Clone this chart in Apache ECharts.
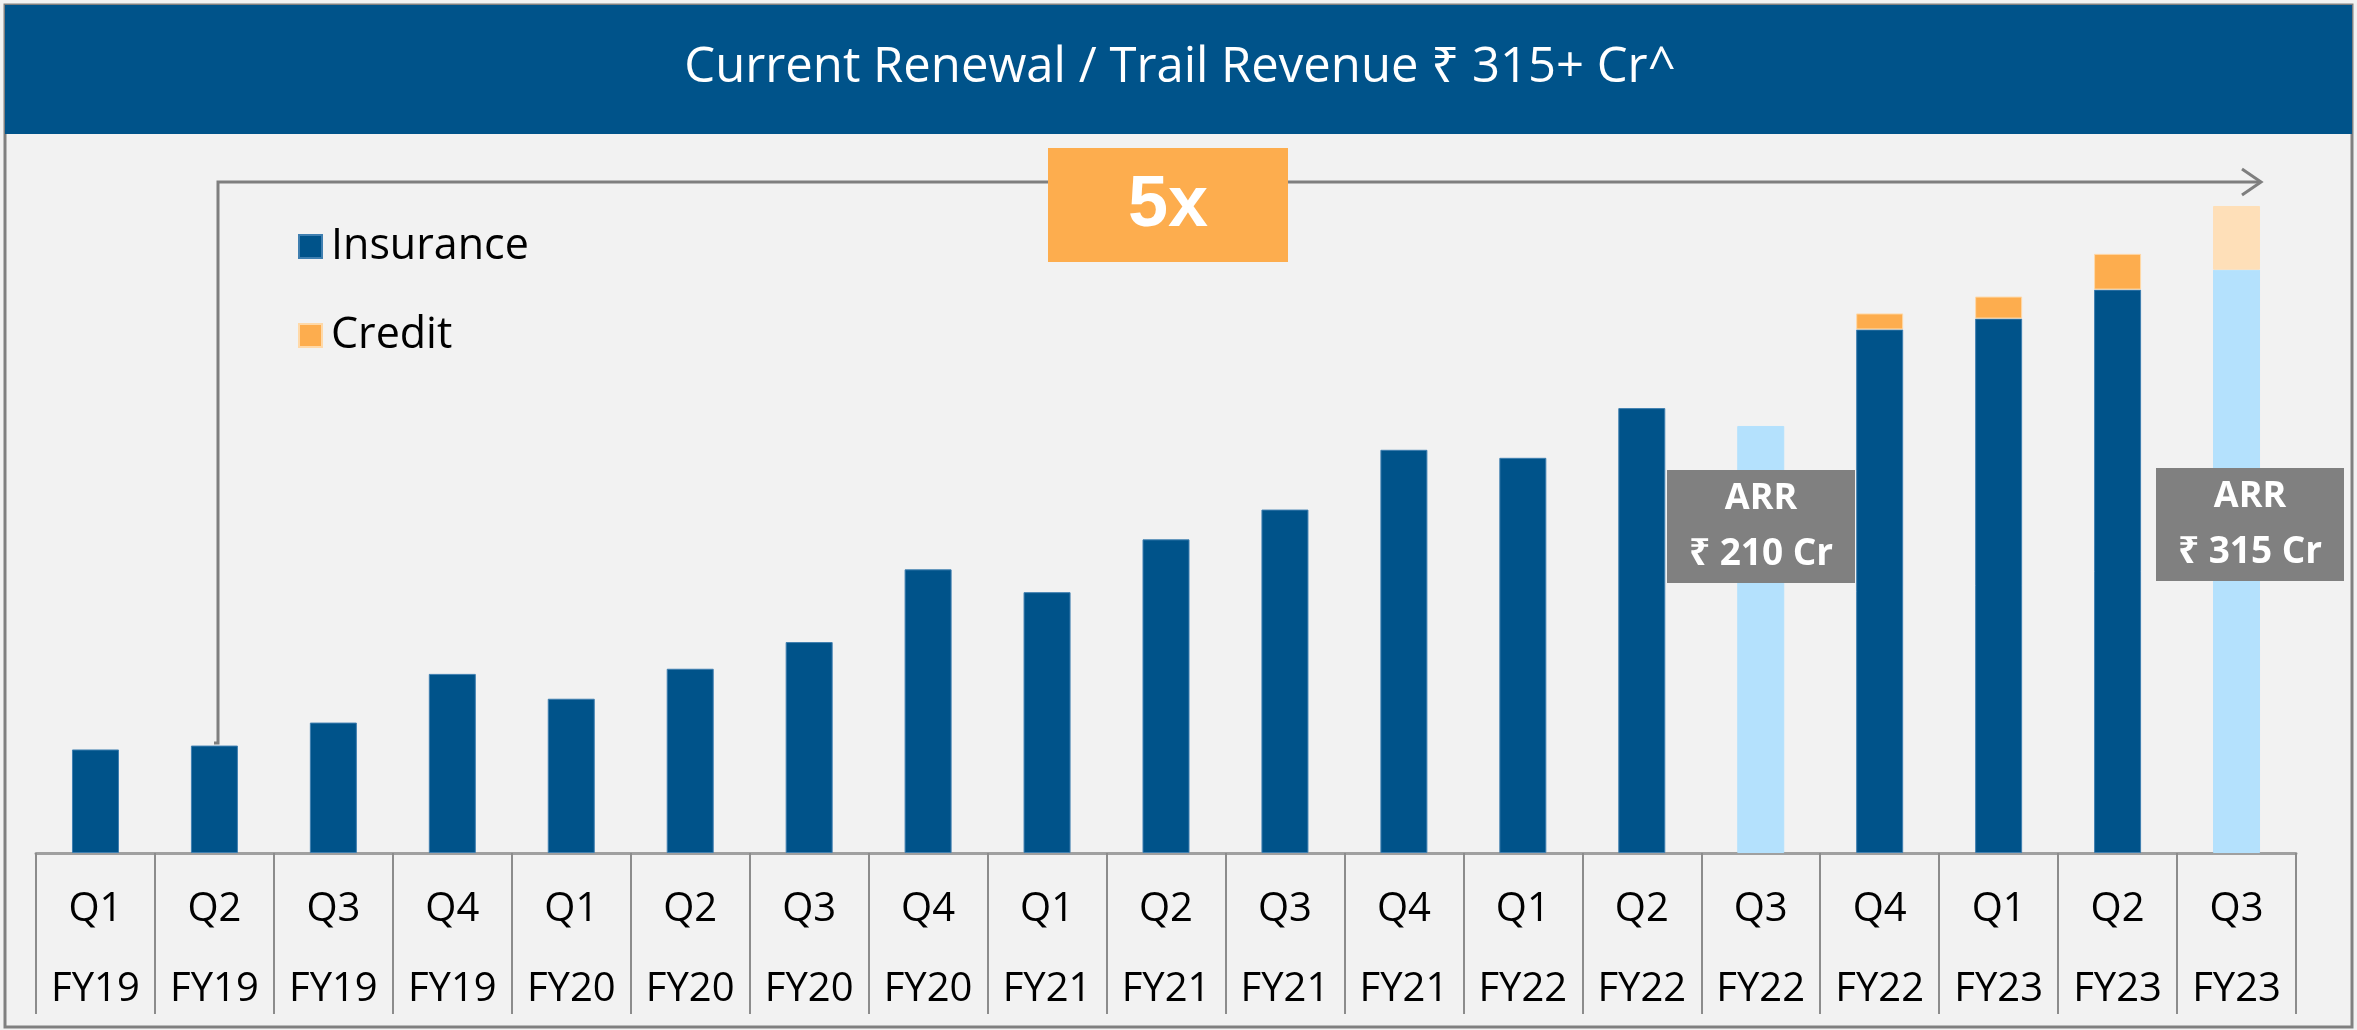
<!DOCTYPE html>
<html>
<head>
<meta charset="utf-8">
<script src="https://cdn.jsdelivr.net/npm/echarts@6/dist/echarts.min.js"></script>
<style>
html,body{margin:0;padding:0;background:#F2F2F2;}
#chart{width:2357px;height:1030px;}
</style>
</head>
<body>
<div id="chart"></div>
<script>
// ---- data ----
var quarters = ['Q1','Q2','Q3','Q4','Q1','Q2','Q3','Q4','Q1','Q2','Q3','Q4','Q1','Q2','Q3','Q4','Q1','Q2','Q3'];
var fiscalYears = ['FY19','FY19','FY19','FY19','FY20','FY20','FY20','FY20','FY21','FY21','FY21','FY21','FY22','FY22','FY22','FY22','FY23','FY23','FY23'];
var insurance = [50.4, 52.3, 63.5, 87.2, 75.1, 89.7, 102.7, 138.1, 127.0, 152.7, 167.2, 196.3, 192.4, 216.6, 207.9, 254.9, 260.2, 274.3, 284.0];
var credit = [null, null, null, null, null, null, null, null, null, null, null, null, null, null, null, 7.8, 10.7, 17.4, 31.0];
var arrPeriods = [14, 18]; // ARR highlight bars (Q3 FY22, Q3 FY23)
var arrLabels = ['₹ 210 Cr', '₹ 315 Cr'];
var titleText = 'Current Renewal / Trail Revenue ₹ 315+ Cr^';
var growthText = '5x';

var categories = quarters.map(function (q, i) { return q + '\n' + fiscalYears[i]; });

var C_INS = '#00538A', C_INS_L = '#B4E1FD', C_CRED = '#FDAD4E', C_CRED_L = '#FEDFB8';
var FONT = '"Open Sans", "Noto Sans", "DejaVu Sans", sans-serif';

var insData = insurance.map(function (v, i) {
  return arrPeriods.indexOf(i) >= 0 ? { value: v, itemStyle: { color: C_INS_L, borderColor: C_INS_L } } : v;
});
var credData = credit.map(function (v, i) {
  return arrPeriods.indexOf(i) >= 0 ? { value: v, itemStyle: { color: C_CRED_L, borderColor: C_CRED_L } } : v;
});

var chart = echarts.init(document.getElementById('chart'), null, { renderer: 'canvas' });

var graphics = [
  { type: 'rect', z: 0, shape: { x: 5, y: 5, width: 2347, height: 1022 }, style: { fill: '#F2F2F2', stroke: '#808080', lineWidth: 3 } },
  { type: 'rect', z: 1, shape: { x: 5, y: 5, width: 2347, height: 129 }, style: { fill: C_INS } },
  { type: 'text', z: 2, x: 1180, y: 68, style: { text: titleText, fill: '#FFFFFF', font: '49px ' + FONT, align: 'center', verticalAlign: 'middle' } },
  { type: 'polyline', z: 5, shape: { points: [[214, 743], [218, 743], [218, 182], [2260, 182]] }, style: { stroke: '#7F7F7F', lineWidth: 3, fill: null } },
  { type: 'polyline', z: 5, shape: { points: [[2242, 169], [2261, 182], [2242, 195]] }, style: { stroke: '#7F7F7F', lineWidth: 3, fill: null } },
  { type: 'rect', z: 6, shape: { x: 1048, y: 148, width: 240, height: 114 }, style: { fill: C_CRED } },
  { type: 'text', z: 7, x: 1168, y: 206, style: { text: growthText, fill: '#FFFFFF', font: 'bold 72px "Liberation Sans Narrow", "Liberation Sans", sans-serif', align: 'center', verticalAlign: 'middle' } }
];
var boxes = [{ x: 1667, y: 470 }, { x: 2156, y: 468 }];
boxes.forEach(function (b, i) {
  graphics.push({ type: 'rect', z: 20, shape: { x: b.x, y: b.y, width: 188, height: 113 }, style: { fill: '#808080' } });
  graphics.push({ type: 'text', z: 21, x: b.x + 94, y: b.y + 29, style: { text: 'ARR', fill: '#FFFFFF', font: 'bold 36px ' + FONT, align: 'center', verticalAlign: 'middle' } });
  graphics.push({ type: 'text', z: 21, x: b.x + 94, y: b.y + 84, style: { text: arrLabels[i], fill: '#FFFFFF', font: 'bold 37px ' + FONT, align: 'center', verticalAlign: 'middle' } });
});

chart.setOption({
  backgroundColor: '#F2F2F2',
  animation: false,
  graphic: { elements: graphics },
  legend: {
    orient: 'vertical', left: 298, top: 225, padding: 0, itemWidth: 23, itemHeight: 23, itemGap: 46,
    icon: 'rect', z: 10,
    textStyle: { fontSize: 43, color: '#000000', fontFamily: FONT, padding: [0, 0, 0, 4] },
    data: ['Insurance', 'Credit']
  },
  grid: { left: 36, right: 61, top: 206, bottom: 174, containLabel: false },
  xAxis: {
    type: 'category', data: categories, boundaryGap: true,
    axisLine: { lineStyle: { color: '#A0A0A0', width: 3 } },
    axisTick: { show: true, interval: 0, length: 161, lineStyle: { color: '#8C8C8C', width: 2 } },
    axisLabel: { interval: 0, margin: 17, fontSize: 40, lineHeight: 80, color: '#000000', fontFamily: FONT }
  },
  yAxis: { type: 'value', min: 0, max: 315, show: false, splitLine: { show: false } },
  series: [
    { name: 'Insurance', type: 'bar', stack: 'rev', barWidth: 47, data: insData, z: 3,
      itemStyle: { color: C_INS, borderColor: '#3f7fb0', borderWidth: 1 } },
    { name: 'Credit', type: 'bar', stack: 'rev', barWidth: 47, data: credData, z: 3,
      itemStyle: { color: C_CRED, borderColor: '#FFD9A8', borderWidth: 1 } }
  ]
});
</script>
</body>
</html>
